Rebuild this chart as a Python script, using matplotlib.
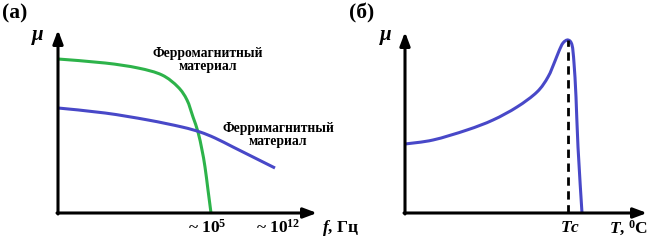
import matplotlib
matplotlib.use("Agg")
import matplotlib.pyplot as plt
from matplotlib.path import Path
from matplotlib.patches import PathPatch

plt.rcParams['font.family'] = ['Liberation Serif', 'DejaVu Serif']
plt.rcParams['font.weight'] = 'bold'
plt.rcParams['mathtext.fontset'] = 'custom'
plt.rcParams['mathtext.rm'] = 'Liberation Serif:bold'
plt.rcParams['mathtext.it'] = 'Liberation Serif:bold:italic'
plt.rcParams['mathtext.bf'] = 'Liberation Serif:bold'

# (а) mu(f): schematic curves, arbitrary units
ferro_f = [0, 47, 80, 104, 120, 129, 135, 140, 144, 147, 150, 153]
ferro_mu = [154, 150, 145, 138, 126, 113, 96, 81, 63, 46, 23, 0]
ferri_f = [0, 47, 90, 124, 142, 157, 175, 195, 217]
ferri_mu = [105, 100, 93, 86, 81, 75, 66, 56, 45]

# (б) mu(T)
temp = [0, 28, 62, 88, 112, 132, 143, 150, 154, 158, 163, 167, 169, 171, 173, 177]
temp_mu = [69, 73, 83, 93, 106, 121, 136, 152, 162, 170, 173, 168, 150, 116, 66, 0]
t_curie = 163
curie_mu = 173

x_ticks_a = [149, 220]
x_ticklabels_a = ['~ 10$^{5}$', '~ 10$^{12}$']

GREEN = '#2db34a'
BLUE = '#4848c8'
W, H = 661, 242

fig = plt.figure(figsize=(W / 100, H / 100), dpi=100)


def panel(x0, y0, w, h):
    ax = fig.add_axes([x0 / W, (H - y0) / H, w / W, h / H])
    ax.set_xlim(0, w)
    ax.set_ylim(0, h)
    ax.axis('off')
    return ax


def arrows(ax, xlen, ylen):
    ap = dict(arrowstyle='-|>,head_length=0.8,head_width=0.3', color='black', lw=2.2,
              shrinkA=0, shrinkB=0)
    ax.annotate('', xy=(xlen, 0), xytext=(-1, 0), arrowprops=ap)
    ax.annotate('', xy=(0, ylen), xytext=(0, -1), arrowprops=ap)


def smooth_line(ax, xs, ys, color):
    # draw the points as a smooth Catmull-Rom path (cubic Bezier segments)
    pts = list(zip(xs, ys))
    verts = [pts[0]]
    codes = [Path.MOVETO]
    n = len(pts)
    for i in range(n - 1):
        p0 = pts[max(i - 1, 0)]
        p1 = pts[i]
        p2 = pts[i + 1]
        p3 = pts[min(i + 2, n - 1)]
        c1 = (p1[0] + (p2[0] - p0[0]) / 6, p1[1] + (p2[1] - p0[1]) / 6)
        c2 = (p2[0] - (p3[0] - p1[0]) / 6, p2[1] - (p3[1] - p1[1]) / 6)
        verts += [c1, c2, p2]
        codes += [Path.CURVE4] * 3
    ax.add_patch(PathPatch(Path(verts, codes), fill=False, edgecolor=color, lw=2.2,
                           capstyle='butt'))


# panel (a)
ax1 = panel(58, 213, 275, 190)
arrows(ax1, 259, 183)
smooth_line(ax1, ferro_f, ferro_mu, GREEN)
smooth_line(ax1, ferri_f, ferri_mu, BLUE)
ax1.text(150, 153, 'Ферромагнитный\nматериал', ha='center', va='center', fontsize=9.8,
         linespacing=1.0)
ax1.text(220, 78, 'Ферримагнитный\nматериал', ha='center', va='center', fontsize=9.8,
         linespacing=1.0)
for xt, lab in zip(x_ticks_a, x_ticklabels_a):
    ax1.text(xt, -15, lab, ha='center', va='center', fontsize=12.5, clip_on=False)
ax1.text(264, -15, '$f$, Гц', ha='left', va='center', fontsize=12.5, clip_on=False)
ax1.text(-20, 176, r'$\mu$', ha='center', va='center', fontsize=15, clip_on=False)
ax1.text(-56, 200, '(а)', ha='left', va='center', fontsize=15.5, clip_on=False)

# panel (б)
ax2 = panel(405, 213, 256, 190)
arrows(ax2, 242, 181)
smooth_line(ax2, temp, temp_mu, BLUE)
ax2.plot([t_curie, t_curie], [0, curie_mu], color='black', lw=2, ls=(0, (3, 2)))
ax2.text(t_curie + 2, -15, '$Tc$', ha='center', va='center', fontsize=12.5, clip_on=False)
ax2.text(204, -15, '$T$, $^{0}$C', ha='left', va='center', fontsize=12.5, clip_on=False)
ax2.text(-19, 176, r'$\mu$', ha='center', va='center', fontsize=15, clip_on=False)
ax2.text(-56, 200, '(б)', ha='left', va='center', fontsize=15.5, clip_on=False)

fig.savefig('out.png', dpi=100)
